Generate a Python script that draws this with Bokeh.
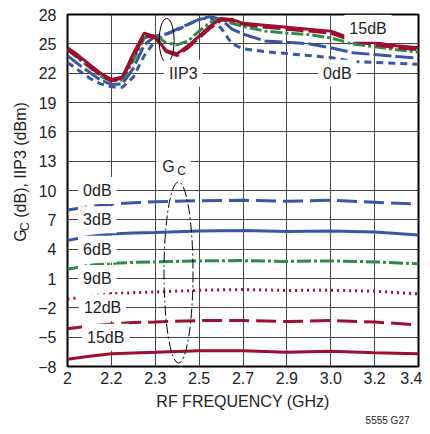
import math
from bokeh.plotting import figure
from bokeh.layouts import row
from bokeh.models import Range1d, FixedTicker, Label, Title
from bokeh.core.properties import value
from bokeh.embed import file_html
from bokeh.resources import INLINE

# ---------------- data ----------------
x_ticks = [0, 1, 2, 3, 4, 5, 6, 7, 8]
x_tick_labels = ["2", "2.2", "2.3", "2.5", "2.7", "2.9", "3.0", "3.2", "3.4"]
y_ticks = [-8, -5, -2, 1, 4, 7, 10, 13, 16, 19, 22, 25, 28]
y_tick_labels = ["\u22128", "\u22125", "\u22122", "1", "4", "7", "10", "13", "16", "19", "22", "25", "28"]

iip3_x = [0, 0.25, 0.5, 0.75, 1.0, 1.25, 1.5, 1.75, 2.0, 2.25, 2.5, 2.75, 3.0,
          3.25, 3.5, 3.75, 4.0, 4.5, 5.0, 5.5, 6.0, 6.5, 7.0, 7.5, 8.0]
iip3_15db = [24.6, 23.8, 22.9, 22.0, 21.35, 21.6, 24.0, 26.1, 25.7, 24.3, 24.0, 24.8, 25.8,
             26.8, 27.6, 27.5, 27.1, 26.9, 26.7, 26.5, 26.3, 25.5, 25.1, 24.8, 24.6]
iip3_12db = [24.4, 23.6, 22.7, 21.8, 21.2, 21.5, 23.6, 25.9, 25.6, 24.2, 23.8, 24.6, 25.6,
             26.6, 27.4, 27.4, 27.0, 26.7, 26.5, 26.3, 26.1, 25.3, 24.9, 24.6, 24.4]
iip3_6db = [24.4, 23.5, 22.6, 21.7, 21.2, 21.3, 23.3, 25.6, 25.9, 25.1, 24.9, 25.3, 26.3,
            27.2, 27.6, 27.1, 26.8, 26.3, 26.1, 25.95, 25.6, 25.0, 24.7, 24.4, 24.15]
iip3_3db = [23.8, 22.9, 22.1, 21.3, 20.85, 20.9, 22.5, 24.9, 25.8, 26.0, 26.5, 27.0, 27.5,
            27.8, 27.5, 26.5, 26.0, 25.3, 25.15, 25.0, 24.6, 24.1, 23.9, 23.7, 23.55]
iip3_0db = [23.1, 22.3, 21.5, 20.9, 20.6, 20.55, 21.6, 23.8, 25.3, 26.0, 26.4, 27.0, 27.5,
            27.7, 26.6, 25.0, 24.5, 24.2, 24.0, 23.8, 23.6, 23.2, 23.1, 23.0, 22.9]

gain_x = [0, 0.5, 1, 1.5, 2, 3, 4, 5, 6, 7, 8]
gain_0db = [8.0, 8.35, 8.6, 8.75, 8.85, 8.95, 9.0, 8.9, 9.0, 8.8, 8.6]
gain_3db = [4.9, 5.3, 5.55, 5.65, 5.7, 5.85, 5.9, 5.8, 5.85, 5.75, 5.45]
gain_6db = [1.95, 2.35, 2.55, 2.65, 2.7, 2.8, 2.83, 2.75, 2.8, 2.7, 2.5]
gain_9db = [-1.1, -0.8, -0.57, -0.45, -0.38, -0.2, -0.13, -0.22, -0.2, -0.3, -0.57]
gain_12db = [-4.15, -3.85, -3.65, -3.5, -3.45, -3.3, -3.3, -3.4, -3.3, -3.45, -3.75]
gain_15db = [-7.25, -6.95, -6.7, -6.62, -6.55, -6.4, -6.4, -6.55, -6.45, -6.6, -6.7]

# ---------------- style ----------------
FONT = "Liberation Sans"
TXT = "#222222"
BLUE = "#3b55a6"
GREEN = "#2f8a4a"
RED = "#9c0f30"
H = 426
LEFT_W = 30

p = figure(width=422 - LEFT_W, height=H, output_backend="svg", toolbar_location=None,
           x_range=Range1d(0, 8), y_range=Range1d(-8, 28),
           min_border_left=67 - LEFT_W, min_border_right=4, min_border_top=14, min_border_bottom=60)
p.background_fill_color = "white"
p.border_fill_color = "white"
p.outline_line_color = "black"
p.outline_line_width = 2

for ax in (p.xaxis[0], p.yaxis[0]):
    ax.axis_line_color = None
    ax.major_tick_line_color = None
    ax.minor_tick_line_color = None
    ax.major_tick_out = 0
    ax.major_tick_in = 0
    ax.major_label_text_font = FONT
    ax.major_label_text_font_size = "16px"
    ax.major_label_text_color = TXT

p.xaxis.ticker = FixedTicker(ticks=x_ticks)
p.xaxis.major_label_overrides = {t: l for t, l in zip(x_ticks, x_tick_labels)}
p.xaxis.major_label_standoff = 5
p.xaxis.axis_label = "RF FREQUENCY (GHz)"
p.xaxis.axis_label_text_font = FONT
p.xaxis.axis_label_text_font_size = "16px"
p.xaxis.axis_label_text_font_style = "normal"
p.xaxis.axis_label_text_color = TXT
p.xaxis.axis_label_standoff = 6

p.add_layout(Title(text="5555 G27", align="right", text_font=FONT, text_font_size="10px",
                   text_font_style="normal", text_color=TXT, standoff=0, offset=9), "below")

p.yaxis.ticker = FixedTicker(ticks=y_ticks)
p.yaxis.major_label_overrides = {t: l for t, l in zip(y_ticks, y_tick_labels)}
p.yaxis.major_label_standoff = 11

p.xgrid.ticker = FixedTicker(ticks=x_ticks)
p.ygrid.ticker = FixedTicker(ticks=y_ticks)
for g in (p.xgrid[0], p.ygrid[0]):
    g.grid_line_color = "#444444"
    g.grid_line_width = 1

# ---------------- curves ----------------
LW = 3
p.line(iip3_x, iip3_0db, line_color=BLUE, line_width=LW, line_dash="7 5")
p.line(iip3_x, iip3_3db, line_color=BLUE, line_width=LW, line_dash="18 4")
p.line(iip3_x, iip3_6db, line_color=GREEN, line_width=LW, line_dash="12 3 3 3")
p.line(iip3_x, iip3_12db, line_color=RED, line_width=LW, line_dash="18 5")
p.line(iip3_x, iip3_15db, line_color=RED, line_width=LW)

p.line(gain_x, gain_0db, line_color=BLUE, line_width=LW, line_dash="20 7")
p.line(gain_x, gain_3db, line_color=BLUE, line_width=LW)
p.line(gain_x, gain_6db, line_color=GREEN, line_width=LW, line_dash="14 3 3 3")
p.line(gain_x, gain_9db, line_color=RED, line_width=LW, line_dash="2 4")
p.line(gain_x, gain_12db, line_color=RED, line_width=LW, line_dash="20 7")
p.line(gain_x, gain_15db, line_color=RED, line_width=LW)

# ellipses marking the curve groups
p.ellipse(x=[2.26], y=[25.34], width=15, height=44, width_units="screen", height_units="screen",
          fill_color=None, line_color="black", line_width=1)
p.ellipse(x=[2.53], y=[1.61], width=29, height=181, width_units="screen", height_units="screen",
          fill_color=None, line_color="black", line_width=1, line_dash="10 3 2 3")

# ---------------- in-plot labels ----------------
def lab(x, y, text, size="16px", bg="white", align="center", pad=5, color=TXT):
    p.add_layout(Label(x=x, y=y, text=text, text_font=FONT, text_font_size=size,
                       text_color=color, text_align=align, text_baseline="middle",
                       background_fill_color=bg, padding=pad))

lab(2.64, 22, "IIP3")
lab(6.15, 22, "0dB")
lab(6.85, 26.6, "15dB")
lab(0.68, 10, "0dB")
lab(0.68, 7, "3dB")
lab(0.68, 4, "6dB")
lab(0.68, 1, "9dB")
lab(0.8, -2, "12dB")
lab(0.87, -5, "15dB")
# white box behind "G_C", then the glyphs
lab(2.42, 12.6, "G C", bg="white", pad=3, color="white")
lab(2.30, 12.45, "G", bg=None, pad=0)
lab(2.60, 11.95, "C", size="12px", bg=None, pad=0)

# ---------------- y-axis title strip (with subscript) ----------------
t = figure(width=LEFT_W, height=H, output_backend="svg", toolbar_location=None,
           x_range=Range1d(0, LEFT_W), y_range=Range1d(0, H),
           x_axis_type=None, y_axis_type=None, min_border=0)
t.outline_line_color = None
t.background_fill_color = "white"
t.border_fill_color = "white"
t.grid.visible = False
t.text(x=[19.5], y=[H - 275], text=["G"], angle=math.pi / 2, text_align="left",
       text_baseline="middle", text_font=value(FONT), text_font_size="16px", text_color=TXT)
t.text(x=[24], y=[H - 262], text=["C"], angle=math.pi / 2, text_align="left",
       text_baseline="middle", text_font=value(FONT), text_font_size="12px", text_color=TXT)
t.text(x=[19.5], y=[H - 246], text=["(dB), IIP3 (dBm)"], angle=math.pi / 2, text_align="left",
       text_baseline="middle", text_font=value(FONT), text_font_size="16px", text_color=TXT)

layout = row(t, p, spacing=0)
open("out.html", "w").write(file_html(layout, INLINE))
